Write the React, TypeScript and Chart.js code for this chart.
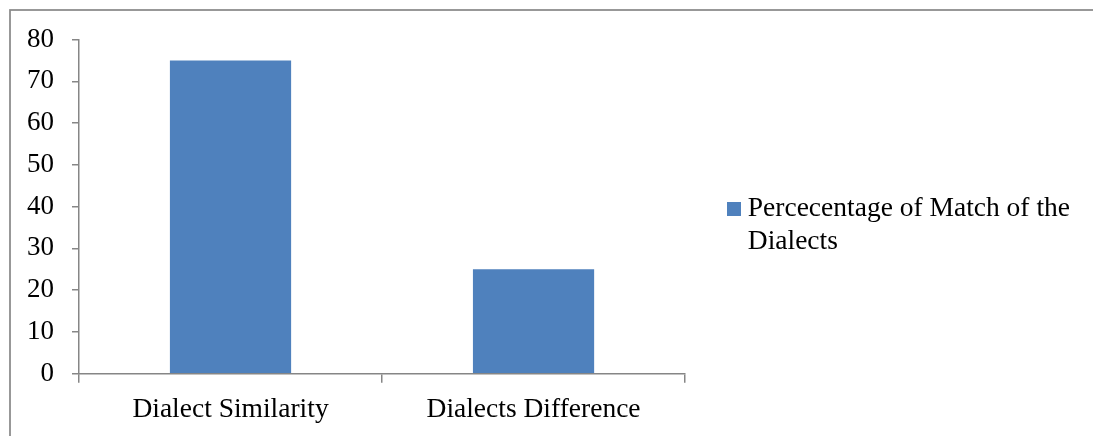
import React, { useEffect, useRef } from "react";
import { Chart, registerables } from "chart.js";

Chart.register(...registerables);

const categories = ["Dialect Similarity", "Dialects Difference"];
const matchPercent = [75, 25];
const seriesLabel = "Percecentage of Match of the Dialects";
const legendLines = ["Percecentage of Match of the", "Dialects"];
const yTicks = { min: 0, max: 80, step: 10 };

const BAR_BLUE = "#4F81BD";
const AXIS_GREY = "#868686";
const FONT = "'Liberation Serif', 'Times New Roman', serif";

// Outer frame of the chart, open to the right and bottom edges.
const framePlugin = {
  id: "frame",
  beforeDraw(chart: any) {
    const { ctx } = chart;
    ctx.save();
    ctx.strokeStyle = "#8a8a8a";
    ctx.lineWidth = 1.75;
    ctx.strokeRect(10, 10, chart.width + 50, chart.height + 50);
    ctx.restore();
  },
};

// Centre the legend on the upper part of the right-hand column.
const legendBandPlugin = {
  id: "legendBand",
  afterLayout(chart: any) {
    if (chart.legend) chart.legend.bottom -= 19;
  },
};

// Legend marker: a small filled square.
function makeSquare(): HTMLCanvasElement {
  const c = document.createElement("canvas");
  c.width = 14;
  c.height = 14;
  const g = c.getContext("2d")!;
  g.fillStyle = BAR_BLUE;
  g.fillRect(0, 0, 14, 14);
  return c;
}

export default function App() {
  const canvasRef = useRef<HTMLCanvasElement | null>(null);

  useEffect(() => {
    if (!canvasRef.current) return;
    const square = makeSquare();
    const chart = new Chart(canvasRef.current, {
      type: "bar",
      data: {
        labels: categories,
        datasets: [
          {
            label: seriesLabel,
            data: matchPercent,
            backgroundColor: BAR_BLUE,
            borderWidth: 0,
            barPercentage: 0.4,
            categoryPercentage: 1.0,
          },
        ],
      },
      options: {
        responsive: false,
        animation: false,
        layout: { padding: { left: 9, top: 39.5, bottom: 0, right: 13 } },
        plugins: {
          tooltip: { enabled: false },
          legend: {
            position: "right",
            align: "center",
            maxWidth: 520,
            labels: {
              color: "#000",
              font: { family: FONT, size: 27.5, lineHeight: 1.19 },
              padding: 48,
              usePointStyle: true,
              pointStyle: square as any,
              pointStyleWidth: 1,
              boxHeight: 14,
              generateLabels(chart: any) {
                const items = Chart.defaults.plugins.legend.labels.generateLabels(chart);
                return items.map((it: any) => ({ ...it, text: legendLines }));
              },
            },
          },
        },
        scales: {
          x: {
            grid: {
              drawOnChartArea: false,
              offset: true,
              tickLength: 9,
              color: AXIS_GREY,
              lineWidth: 1.5,
            },
            border: { display: true, color: AXIS_GREY, width: 1.5 },
            ticks: {
              color: "#000",
              padding: 11,
              font: { family: FONT, size: 27.5 },
              maxRotation: 0,
            },
            afterFit(scale: any) {
              scale.height = 62.3;
            },
          },
          y: {
            min: yTicks.min,
            max: yTicks.max,
            grid: {
              drawOnChartArea: false,
              tickLength: 7,
              color: AXIS_GREY,
              lineWidth: 1.5,
            },
            border: { display: true, color: AXIS_GREY, width: 1.5 },
            ticks: {
              stepSize: yTicks.step,
              color: "#000",
              padding: 18,
              font: { family: FONT, size: 27 },
            },
          },
        },
      },
      plugins: [framePlugin, legendBandPlugin],
    });
    return () => chart.destroy();
  }, []);

  return (
    <div style={{ position: "absolute", left: 0, top: 0, width: 1093, height: 436, background: "#fff" }}>
      <canvas ref={canvasRef} width={1093} height={436} />
    </div>
  );
}
